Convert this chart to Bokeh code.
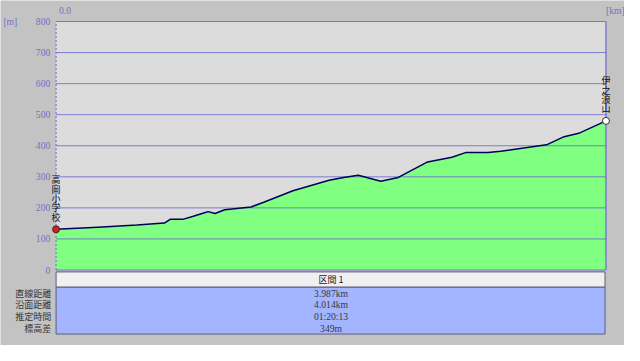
from bokeh.plotting import figure
from bokeh.core.properties import value
from bokeh.embed import file_html
from bokeh.resources import INLINE

# ---- data ----
DIST = [0.000, 0.306, 0.590, 0.790, 0.833, 0.925, 0.996, 1.089, 1.110, 1.160,
        1.231, 1.423, 1.516, 1.729, 1.993, 2.099, 2.206, 2.370, 2.498, 2.605,
        2.712, 2.890, 2.989, 3.153, 3.245, 3.388, 3.580, 3.701, 3.815, 4.014]
ELEV = [131, 138, 145, 151, 163, 163, 172, 185, 188, 182,
        194, 203, 218, 255, 289, 298, 305, 286, 298, 323,
        348, 363, 378, 378, 382, 391, 403, 428, 440, 480]
Y_TICKS = [0, 100, 200, 300, 400, 500, 600, 700, 800]
START_NAME = "高岡小学校"
END_NAME = "伊之浪山"
SECTION_HEADER = "区間 1"
ROW_LABELS = ["直線距離", "沿面距離", "推定時間", "標高差"]
ROW_VALUES = ["3.987km", "4.014km", "01:20:13", "349m"]
Y_UNIT = "[m]"
X_UNIT = "[km]"
X_START_LABEL = "0.0"

# ---- layout (reference pixel positions, scaled to the figure) ----
W, H = 624, 345
SX, SY = W / 640, H / 361
YMAX = Y_TICKS[-1]
XMAX = DIST[-1]
KX = (621 - 57) * SX / XMAX      # px per km
KY = (282 - 22) * SY / YMAX      # px per m


def X(rx):
    return (rx * SX - 57 * SX) / KX


def Y(ry):
    return (282 * SY - ry * SY) / KY


BG = "#c3c3c3"
PLOT_BG = "#dcdcdc"
GREEN = "#80ff80"
LINE = "#00005a"
GRID = "#6b6bd0"
TICK_TXT = "#7272c4"
TBL_BLUE = "#a3b5ff"
TBL_HEAD = "#f0f0f0"
TBL_EDGE = "#5c5c7c"
TXT = "#383838"
SERIF = "Liberation Serif"
CJK = "Noto Sans CJK JP"
FS = "9.6px"

p = figure(width=W, height=H, output_backend="svg", toolbar_location=None,
           x_range=(X(0), X(640)), y_range=(Y(361), Y(0)),
           x_axis_location=None, y_axis_location=None,
           min_border=0)
p.background_fill_color = BG
p.border_fill_color = BG
p.outline_line_color = None
p.xgrid.visible = False
p.ygrid.visible = False

# plot area
p.quad(left=0, right=XMAX, bottom=0, top=YMAX, fill_color=PLOT_BG, line_color=None)
p.varea(x=DIST, y1=0, y2=ELEV, fill_color=GREEN)
n = len(Y_TICKS)
p.segment(x0=[0] * n, x1=[XMAX] * n, y0=Y_TICKS, y1=Y_TICKS,
          line_color=GRID, line_width=1, line_alpha=0.85)
p.segment(x0=[0], x1=[0], y0=[0], y1=[YMAX], line_color=GRID, line_dash="2 2")
p.segment(x0=[XMAX], x1=[XMAX], y0=[0], y1=[YMAX], line_color=GRID, line_width=1.2)
p.line(DIST, ELEV, line_color=LINE, line_width=1.5)

# end markers
p.scatter([DIST[0]], [ELEV[0]], size=7, fill_color="#d02020", line_color="#502020")
p.scatter([DIST[-1]], [ELEV[-1]], size=7, fill_color="white", line_color="#303030")

# y tick labels
p.text(x=[X(51)] * n, y=Y_TICKS, text=[str(t) for t in Y_TICKS],
       text_align="right", text_baseline="middle", text_font=value(SERIF),
       text_font_size=value(FS), text_color=TICK_TXT)

# unit / start labels
p.text(x=[X(3)], y=[Y(22)], text=[Y_UNIT], text_align="left", text_baseline="middle",
       text_font=value(SERIF), text_font_size=value(FS), text_color=TICK_TXT)
p.text(x=[X(60)], y=[Y(10)], text=[X_START_LABEL], text_align="left",
       text_baseline="middle", text_font=value(SERIF), text_font_size=value(FS),
       text_color=TICK_TXT)
p.text(x=[X(621)], y=[Y(10)], text=[X_UNIT], text_align="left",
       text_baseline="middle", text_font=value(SERIF), text_font_size=value(FS),
       text_color=TICK_TXT)


def vlabel(x, y, name):
    k = len(name)
    ys = [y + (12 + (k - 1 - i) * 9.4) / KY for i in range(k)]
    p.text(x=[x] * k, y=ys, text=list(name), text_align="center",
           text_baseline="middle", text_font=value(CJK),
           text_font_size=value("9px"), text_color="#101010")


vlabel(DIST[0], ELEV[0], START_NAME)
vlabel(DIST[-1], ELEV[-1], END_NAME)

# table
p.quad(left=0, right=X(620), top=Y(284), bottom=Y(300),
       fill_color=TBL_HEAD, line_color=TBL_EDGE, line_width=1)
p.quad(left=0, right=X(620), top=Y(300), bottom=Y(349),
       fill_color=TBL_BLUE, line_color=TBL_EDGE, line_width=1)
p.text(x=[X(339)], y=[Y(292)], text=[SECTION_HEADER], text_align="center",
       text_baseline="middle", text_font=value(CJK), text_font_size=value("9px"),
       text_color="#202020")
nrow = len(ROW_LABELS)
rh = (349 - 300) / nrow
row_y = [Y(300 + rh * (i + 0.5)) for i in range(nrow)]
p.text(x=[X(52)] * nrow, y=row_y, text=ROW_LABELS, text_align="right",
       text_baseline="middle", text_font=value(CJK), text_font_size=value("9px"),
       text_color=TXT)
p.text(x=[X(339)] * nrow, y=row_y, text=ROW_VALUES, text_align="center",
       text_baseline="middle", text_font=value(SERIF), text_font_size=value(FS),
       text_color=TXT)

open("out.html", "w").write(file_html(p, INLINE))
